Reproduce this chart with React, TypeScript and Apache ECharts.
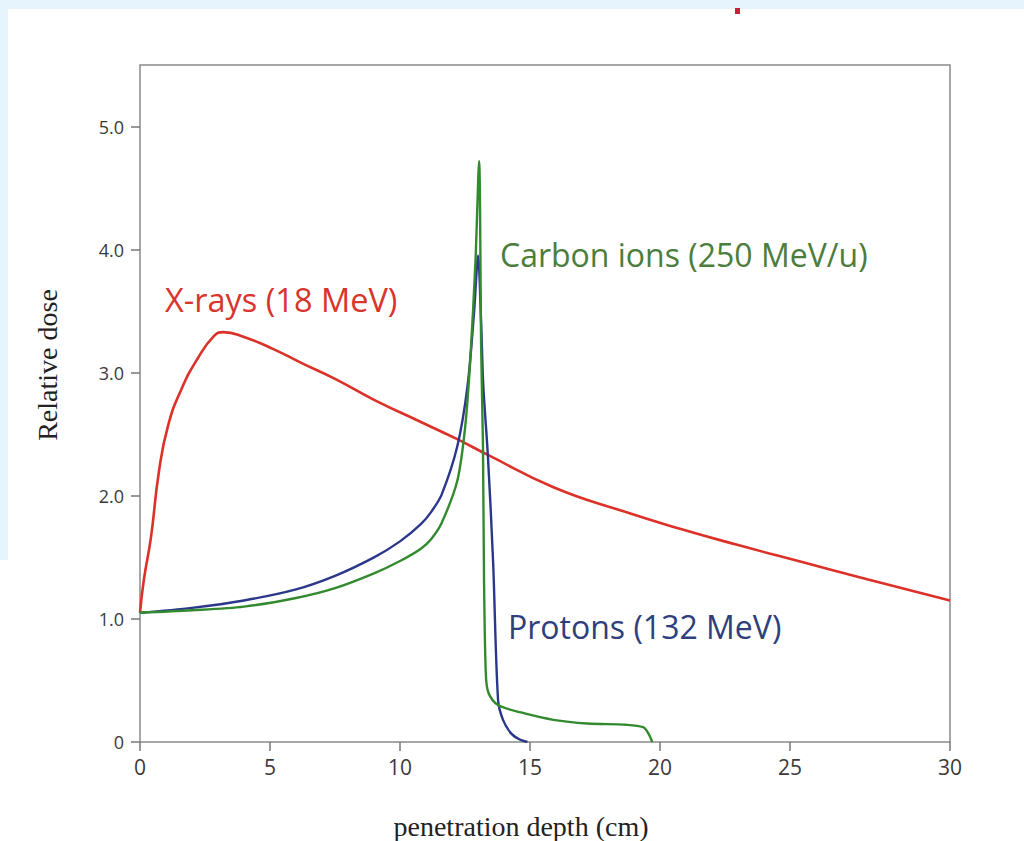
import React, { useEffect, useRef } from "react";
import * as echarts from "echarts";

// Depth-dose curves: depth in cm, dose relative to the entrance value
const xrayDepth = [0, 0.15, 0.42, 0.73, 1.08, 1.58, 2.23, 2.85, 3.2, 4.0, 5.15, 6.2, 7.5, 9.0, 10.8, 12.2, 13.4, 15.9, 18.5, 20.8, 23.0, 25.5, 28.0, 31.15];
const xrayDose = [1.05, 1.32, 1.66, 2.2, 2.57, 2.86, 3.12, 3.3, 3.33, 3.29, 3.19, 3.08, 2.95, 2.78, 2.6, 2.46, 2.33, 2.07, 1.88, 1.73, 1.6, 1.46, 1.32, 1.15];

const protonDepth = [0, 2.0, 4.0, 6.0, 7.5, 9.0, 10.0, 10.8, 11.2, 11.6, 12.2, 12.6, 12.85, 13.0, 13.12, 13.2, 13.38, 13.58, 13.77, 13.96, 14.27, 14.6, 14.9];
const protonDose = [1.05, 1.09, 1.15, 1.24, 1.35, 1.5, 1.63, 1.77, 1.87, 2.01, 2.4, 2.9, 3.5, 3.95, 3.4, 2.9, 2.32, 1.46, 0.34, 0.18, 0.07, 0.02, 0];

const carbonDepth = [0, 2.0, 4.0, 6.0, 7.5, 9.0, 10.0, 10.8, 11.2, 11.6, 12.2, 12.5, 12.7, 12.9, 13.04, 13.12, 13.19, 13.23, 13.3, 13.4, 13.77, 14.65, 15.9, 17.2, 18.7, 19.35, 19.55, 19.7];
const carbonDose = [1.05, 1.07, 1.1, 1.17, 1.25, 1.37, 1.47, 1.57, 1.65, 1.78, 2.12, 2.55, 3.1, 3.9, 4.72, 3.2, 2.4, 1.32, 0.55, 0.4, 0.3, 0.24, 0.18, 0.15, 0.14, 0.12, 0.07, 0];

// Axis ticks and their labels
const depthTickValues = [0, 5, 10, 15, 20, 25, 31.15];
const depthTickLabels = ["0", "5", "10", "15", "20", "25", "30"];
const doseTickValues = [0, 1, 2, 3, 4, 5];
const doseTickLabels = ["0", "1.0", "2.0", "3.0", "4.0", "5.0"];

const seriesNames = ["X-rays (18 MeV)", "Protons (132 MeV)", "Carbon ions (250 MeV/u)"];

const zip = (xs: number[], ys: number[]) => xs.map((x, i) => [x, ys[i]]);

export default function App() {
  const ref = useRef<HTMLDivElement>(null);

  useEffect(() => {
    if (!ref.current) return;
    const chart = echarts.init(ref.current, null, { renderer: "svg" });
    const sans = "'Open Sans', 'Noto Sans', sans-serif";
    const serif = "'Liberation Serif', 'DejaVu Serif', serif";

    const label = (text: string, x: number, y: number, fill: string, size: number) => ({
      type: "text",
      x,
      y,
      style: {
        text,
        fill,
        font: `${size}px ${sans}`,
        align: "left",
        verticalAlign: "middle",
        textAlign: "left",
        textVerticalAlign: "middle",
      },
    });

    chart.setOption({
      animation: false,
      backgroundColor: "#ffffff",
      grid: {
        left: 140,
        right: 74,
        top: 65,
        bottom: 99,
        show: true,
        borderColor: "#8a8a8a",
        borderWidth: 1.5,
        backgroundColor: "transparent",
      },
      xAxis: {
        type: "value",
        min: 0,
        max: 31.15,
        axisLine: { show: false },
        splitLine: { show: false },
        axisTick: {
          show: true,
          customValues: depthTickValues,
          length: 9,
          lineStyle: { color: "#777", width: 1.5 },
        },
        axisLabel: {
          customValues: depthTickValues,
          formatter: (v: number) => depthTickLabels[depthTickValues.indexOf(v)] ?? "",
          color: "#3a3a3a",
          fontFamily: sans,
          fontSize: 21,
          margin: 14,
        },
      },
      yAxis: {
        type: "value",
        min: 0,
        max: 5.5,
        axisLine: { show: false },
        splitLine: { show: false },
        axisTick: {
          show: true,
          customValues: doseTickValues,
          length: 9,
          lineStyle: { color: "#777", width: 1.5 },
        },
        axisLabel: {
          customValues: doseTickValues,
          formatter: (v: number) => doseTickLabels[doseTickValues.indexOf(v)] ?? "",
          color: "#3a3a3a",
          fontFamily: sans,
          fontSize: 18,
          margin: 16,
        },
      },
      series: [
        {
          name: seriesNames[0],
          type: "line",
          data: zip(xrayDepth, xrayDose),
          symbol: "none",
          smooth: 0.5,
          lineStyle: { color: "#dc3128", width: 2.6 },
          z: 3,
        },
        {
          name: seriesNames[1],
          type: "line",
          data: zip(protonDepth, protonDose),
          symbol: "none",
          smooth: 0.3,
          lineStyle: { color: "#2a378a", width: 2.4 },
          z: 4,
        },
        {
          name: seriesNames[2],
          type: "line",
          data: zip(carbonDepth, carbonDose),
          symbol: "none",
          smooth: 0.3,
          lineStyle: { color: "#338a2e", width: 2.4 },
          z: 5,
        },
      ],
      graphic: [
        // pale blue frame strips
        { type: "rect", shape: { x: 0, y: 0, width: 1024, height: 9 }, style: { fill: "#e6f4fd" }, silent: true },
        { type: "rect", shape: { x: 0, y: 0, width: 8, height: 560 }, style: { fill: "#e6f4fd" }, silent: true },
        { type: "rect", shape: { x: 735, y: 8, width: 5, height: 6 }, style: { fill: "#c8203a" }, silent: true },
        label(seriesNames[0], 165, 299, "#d8352c", 32.5),
        label(seriesNames[2], 500, 254, "#4c7d3c", 32),
        label(seriesNames[1], 508, 626, "#2f3f7c", 32),
        {
          type: "text",
          x: 521,
          y: 826,
          style: {
            text: "penetration depth (cm)",
            fill: "#222",
            font: `28px ${serif}`,
            align: "center",
            verticalAlign: "middle",
            textAlign: "center",
            textVerticalAlign: "middle",
          },
        },
        {
          type: "text",
          x: 47,
          y: 365,
          rotation: Math.PI / 2,
          style: {
            text: "Relative dose",
            fill: "#222",
            font: `28px ${serif}`,
            align: "center",
            verticalAlign: "middle",
            textAlign: "center",
            textVerticalAlign: "middle",
          },
        },
      ],
    });

    return () => chart.dispose();
  }, []);

  return (
    <div
      ref={ref}
      style={{ position: "absolute", left: 0, top: 0, width: 1024, height: 841 }}
    />
  );
}
